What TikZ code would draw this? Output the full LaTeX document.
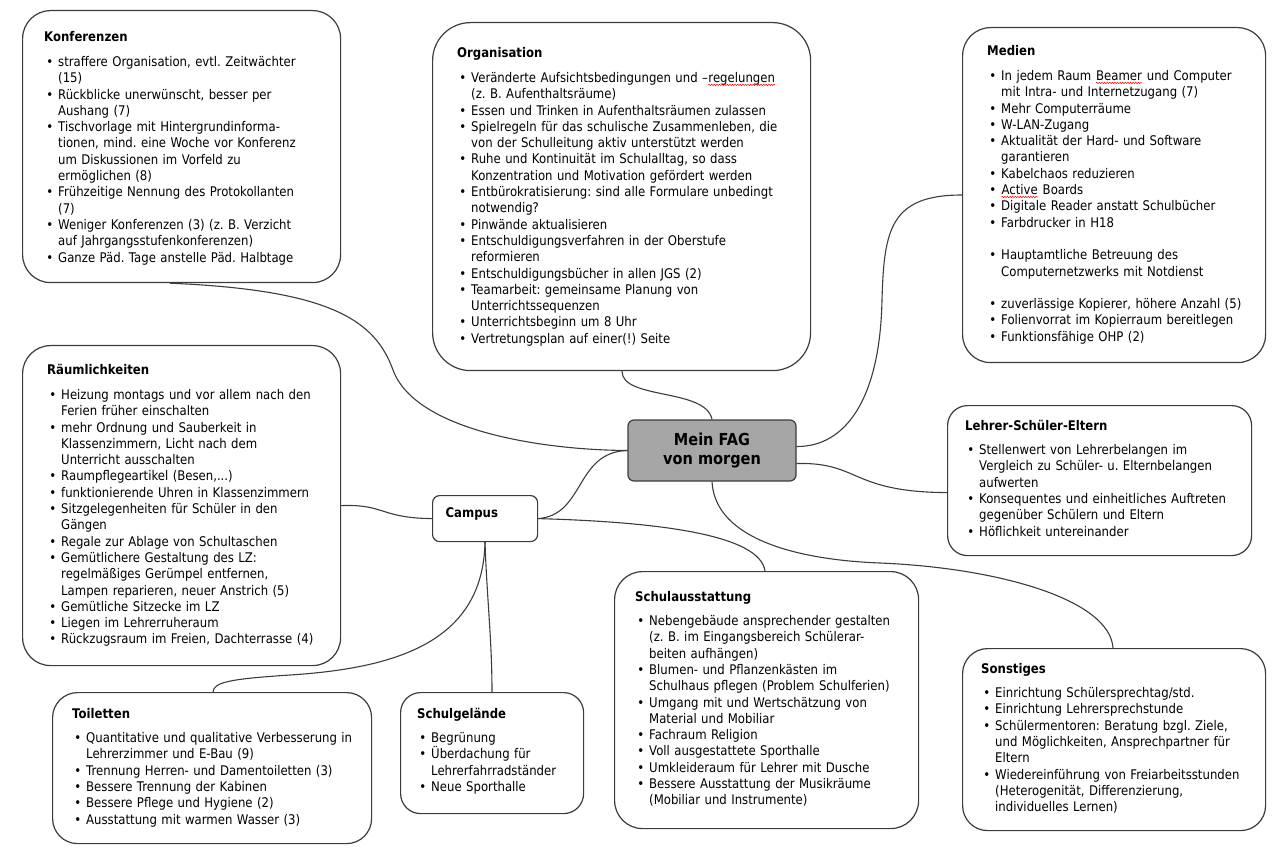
\documentclass[tikz,border=0pt]{standalone}
\usepackage{fontspec}
\setmainfont{DejaVu Sans}[FakeStretch=0.88]
\usetikzlibrary{decorations.pathmorphing}
\frenchspacing
\newcommand\rotwelle[1]{\tikz[baseline=(w.base)]{\node[inner sep=0pt, text width={}, anchor=base west] (w) {#1};
  \draw[red, line width=0.5pt, decorate, decoration={snake, amplitude=0.7pt, segment length=2.6pt}] ([yshift=-2.4pt]w.base west) -- ([yshift=-2.4pt]w.base east);}}
\newenvironment{punkte}{\begin{list}{\textbullet}{\setlength{\leftmargin}{14pt}\setlength{\labelwidth}{9pt}\setlength{\labelsep}{5pt}\setlength{\itemsep}{0pt}\setlength{\parsep}{0pt}\setlength{\topsep}{0pt}\setlength{\partopsep}{0pt}}}{\end{list}}
\newcommand\titel[1]{\textbf{#1}\par\vspace{8.2pt}}
\definecolor{rand}{HTML}{3C3C3C}
\definecolor{mitte}{HTML}{A6A6A6}
\tikzset{
  feld/.style={draw=rand, line width=1.2pt, rounded corners=28pt, anchor=north west, inner sep=0pt},
  inhalt/.style={anchor=base west, inner sep=0pt, align=left, font=\fontsize{13.3}{16.3}\selectfont},
  ast/.style={draw=rand, line width=1.1pt},
}
\begin{document}
\begin{tikzpicture}[x=1pt, y=-1pt]
\useasboundingbox (0,0) rectangle (1275,850);

\node[feld, minimum width=318, minimum height=272] (konf) at (22,10) {};
\node[feld, rounded corners=38pt, minimum width=378, minimum height=348] (org) at (432,22) {};
\node[feld, minimum width=303, minimum height=335] (med) at (962,27) {};
\node[feld, minimum width=318, minimum height=320] (raum) at (22,345) {};
\node[feld, rounded corners=20pt, minimum width=304, minimum height=150] (lse) at (947,405) {};
\node[feld, minimum width=304, minimum height=257] (schul) at (614,571) {};
\node[feld, rounded corners=25pt, minimum width=303, minimum height=182] (sonst) at (962,648) {};
\node[feld, rounded corners=25pt, minimum width=319, minimum height=151] (toil) at (52,692) {};
\node[feld, rounded corners=20pt, minimum width=183, minimum height=121] (gel) at (400,692) {};
\node[feld, rounded corners=7pt, minimum width=105, minimum height=46, text width=79, inner xsep=13, inner ysep=14,
  text height=8, text depth=10, align=left, font=\bfseries\fontsize{13.3}{16.3}\selectfont] (campus) at (432,495) {Campus};
\node[draw=rand, fill=mitte, line width=1.2pt, rounded corners=6pt, minimum width=168, minimum height=61, align=center,
  font=\bfseries\fontsize{16.5}{19.5}\selectfont] (fag) at (712,450.5) {Mein FAG\\von morgen};

\node[inhalt, text width=300] (konftext) at (44,42) {\titel{Konferenzen}
\begin{punkte}
\item straffere Organisation, evtl. Zeitwächter\newline (15)
\item Rückblicke unerwünscht, besser per\newline Aushang (7)
\item Tischvorlage mit Hintergrundinforma-\newline tionen, mind. eine Woche vor Konferenz\newline um Diskussionen im Vorfeld zu\newline ermöglichen (8)
\item Frühzeitige Nennung des Protokollanten\newline (7)
\item Weniger Konferenzen (3) (z. B. Verzicht\newline auf Jahrgangsstufenkonferenzen)
\item Ganze Päd. Tage anstelle Päd. Halbtage
\end{punkte}};

\node[inhalt, text width=360] (orgtext) at (457,58) {\titel{Organisation}
\begin{punkte}
\item Veränderte Aufsichtsbedingungen und –\rotwelle{regelungen}\newline (z. B. Aufenthaltsräume)
\item Essen und Trinken in Aufenthaltsräumen zulassen
\item Spielregeln für das schulische Zusammenleben, die\newline von der Schulleitung aktiv unterstützt werden
\item Ruhe und Kontinuität im Schulalltag, so dass\newline Konzentration und Motivation gefördert werden
\item Entbürokratisierung: sind alle Formulare unbedingt\newline notwendig?
\item Pinwände aktualisieren
\item Entschuldigungsverfahren in der Oberstufe\newline reformieren
\item Entschuldigungsbücher in allen JGS (2)
\item Teamarbeit: gemeinsame Planung von\newline Unterrichtssequenzen
\item Unterrichtsbeginn um 8 Uhr
\item Vertretungsplan auf einer(!) Seite
\end{punkte}};

\node[inhalt, text width=290] (medtext) at (987,56) {\titel{Medien}
\begin{punkte}
\item In jedem Raum \rotwelle{Beamer} und Computer\newline mit Intra- und Internetzugang (7)
\item Mehr Computerräume
\item W-LAN-Zugang
\item Aktualität der Hard- und Software\newline garantieren
\item Kabelchaos reduzieren
\item \rotwelle{Active} Boards
\item Digitale Reader anstatt Schulbücher
\item Farbdrucker in H18\par\vspace{16.3pt}
\item Hauptamtliche Betreuung des\newline Computernetzwerks mit Notdienst\par\vspace{16.3pt}
\item zuverlässige Kopierer, höhere Anzahl (5)
\item Folienvorrat im Kopierraum bereitlegen
\item Funktionsfähige OHP (2)
\end{punkte}};

\node[inhalt, text width=300] (raumtext) at (47,375) {\titel{Räumlichkeiten}
\begin{punkte}
\item Heizung montags und vor allem nach den\newline Ferien früher einschalten
\item mehr Ordnung und Sauberkeit in\newline Klassenzimmern, Licht nach dem\newline Unterricht ausschalten
\item Raumpflegeartikel (Besen,...)
\item funktionierende Uhren in Klassenzimmern
\item Sitzgelegenheiten für Schüler in den\newline Gängen
\item Regale zur Ablage von Schultaschen
\item Gemütlichere Gestaltung des LZ:\newline regelmäßiges Gerümpel entfernen,\newline Lampen reparieren, neuer Anstrich (5)
\item Gemütliche Sitzecke im LZ
\item Liegen im Lehrerruheraum
\item Rückzugsraum im Freien, Dachterrasse (4)
\end{punkte}};

\node[inhalt, text width=290] (lsetext) at (965,430) {\titel{Lehrer-Schüler-Eltern}
\begin{punkte}
\item Stellenwert von Lehrerbelangen im\newline Vergleich zu Schüler- u. Elternbelangen\newline aufwerten
\item Konsequentes und einheitliches Auftreten\newline gegenüber Schülern und Eltern
\item Höflichkeit untereinander
\end{punkte}};

\node[inhalt, text width=290] (schultext) at (635,601) {\titel{Schulausstattung}
\begin{punkte}
\item Nebengebäude ansprechender gestalten\newline (z. B. im Eingangsbereich Schülerar-\newline beiten aufhängen)
\item Blumen- und Pflanzenkästen im\newline Schulhaus pflegen (Problem Schulferien)
\item Umgang mit und Wertschätzung von\newline Material und Mobiliar
\item Fachraum Religion
\item Voll ausgestattete Sporthalle
\item Umkleideraum für Lehrer mit Dusche
\item Bessere Ausstattung der Musikräume\newline (Mobiliar und Instrumente)
\end{punkte}};

\node[inhalt, text width=290] (sonsttext) at (981,673) {\titel{Sonstiges}
\begin{punkte}
\item Einrichtung Schülersprechtag/std.
\item Einrichtung Lehrersprechstunde
\item Schülermentoren: Beratung bzgl. Ziele,\newline und Möglichkeiten, Ansprechpartner für\newline Eltern
\item Wiedereinführung von Freiarbeitsstunden\newline (Heterogenität, Differenzierung,\newline individuelles Lernen)
\end{punkte}};

\node[inhalt, text width=300] (toiltext) at (72,718) {\titel{Toiletten}
\begin{punkte}
\item Quantitative und qualitative Verbesserung in\newline Lehrerzimmer und E-Bau (9)
\item Trennung Herren- und Damentoiletten (3)
\item Bessere Trennung der Kabinen
\item Bessere Pflege und Hygiene (2)
\item Ausstattung mit warmen Wasser (3)
\end{punkte}};

\node[inhalt, text width=170] (geltext) at (417,718) {\titel{Schulgelände}
\begin{punkte}
\item Begrünung
\item Überdachung für\newline Lehrerfahrradständer
\item Neue Sporthalle
\end{punkte}};

\draw[ast] ([xshift=148]konf.south west) .. controls (330,290) and (375,320) .. (393,370) .. controls (415,430) and (540,450) .. (fag.west);
\draw[ast] ([xshift=190]org.south west) .. controls (622,400) and (706,388) .. (fag.north);
\draw[ast] ([yshift=-168]med.north west) .. controls (890,195) and (884,230) .. (882,300) .. controls (880,400) and (845,447) .. ([yshift=4]fag.east);
\draw[ast] ([yshift=-13]fag.east) .. controls (860,462) and (850,492) .. ([yshift=-12]lse.west);
\draw[ast] (fag.south) .. controls (715,540) and (800,560) .. (880,563) .. controls (1000,568) and (1110,600) .. ([xshift=151]sonst.north west);
\draw[ast] (campus.east) .. controls (585,515) and (575,452) .. (fag.west);
\draw[ast] (campus.east) .. controls (660,522) and (760,535) .. ([xshift=151]schul.north west);
\draw[ast] (raum.east) .. controls (385,504) and (380,518) .. (campus.west);
\draw[ast] ([xshift=53]campus.south west) .. controls (487,600) and (492,640) .. ([xshift=92]gel.north west);
\draw[ast] ([xshift=53]campus.south west) .. controls (483,640) and (400,668) .. (290,675) .. controls (230,679) and (214,682) .. ([xshift=161]toil.north west);
\end{tikzpicture}
\end{document}
